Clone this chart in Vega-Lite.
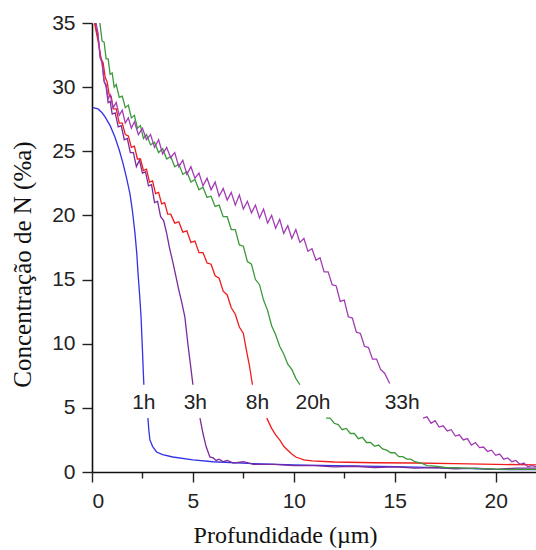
{
  "$schema": "https://vega.github.io/schema/vega-lite/v6.json",
  "width": 444,
  "height": 449,
  "autosize": "none",
  "padding": {"left": 92, "top": 23, "right": 0, "bottom": 78},
  "background": "white",
  "config": {
    "view": {"stroke": null},
    "axis": {
      "domainColor": "#111", "domainWidth": 1.6, "tickColor": "#222", "tickWidth": 1.4,
      "grid": false, "labelFont": "Liberation Sans", "labelFontSize": 20, "labelColor": "#222",
      "titleFont": "Liberation Serif", "titleFontWeight": "normal", "titleColor": "#111"
    }
  },
  "layer": [
    {
      "data": {"values": [
        {"s":"1h","p":0,"x":0.05,"y":28.4},{"s":"1h","p":0,"x":0.3,"y":28.3},{"s":"1h","p":0,"x":0.5,"y":28.0},{"s":"1h","p":0,"x":0.64,"y":27.7},{"s":"1h","p":0,"x":0.9,"y":27.0},{"s":"1h","p":0,"x":1.14,"y":26.1},{"s":"1h","p":0,"x":1.35,"y":25.1},{"s":"1h","p":0,"x":1.53,"y":24.1},{"s":"1h","p":0,"x":1.7,"y":23.0},{"s":"1h","p":0,"x":1.88,"y":21.7},{"s":"1h","p":0,"x":2.0,"y":20.4},{"s":"1h","p":0,"x":2.13,"y":18.6},{"s":"1h","p":0,"x":2.22,"y":17.0},{"s":"1h","p":0,"x":2.28,"y":15.5},{"s":"1h","p":0,"x":2.36,"y":13.8},{"s":"1h","p":0,"x":2.43,"y":12.1},{"s":"1h","p":0,"x":2.5,"y":9.5},{"s":"1h","p":0,"x":2.55,"y":7.5},{"s":"1h","p":0,"x":2.57,"y":6.8},
        {"s":"1h","p":1,"x":2.77,"y":4.2},{"s":"1h","p":1,"x":2.82,"y":3.2},{"s":"1h","p":1,"x":2.87,"y":2.5},{"s":"1h","p":1,"x":3.0,"y":2.0},{"s":"1h","p":1,"x":3.2,"y":1.56},{"s":"1h","p":1,"x":3.5,"y":1.35},{"s":"1h","p":1,"x":4.0,"y":1.17},{"s":"1h","p":1,"x":5.0,"y":0.95},{"s":"1h","p":1,"x":6.0,"y":0.8},{"s":"1h","p":1,"x":8.0,"y":0.65},{"s":"1h","p":1,"x":10.0,"y":0.55},{"s":"1h","p":1,"x":12.0,"y":0.5},{"s":"1h","p":1,"x":15.0,"y":0.42},{"s":"1h","p":1,"x":18.0,"y":0.3},{"s":"1h","p":1,"x":20.0,"y":0.2},{"s":"1h","p":1,"x":22.0,"y":0.18},

        {"s":"3h","p":0,"x":0.1,"y":36},{"s":"3h","p":0,"x":0.2,"y":34.6},{"s":"3h","p":0,"x":0.3,"y":33.9},{"s":"3h","p":0,"x":0.4,"y":32.5},{"s":"3h","p":0,"x":0.5,"y":31.9},{"s":"3h","p":0,"x":0.6,"y":30.5},{"s":"3h","p":0,"x":0.7,"y":30.0},{"s":"3h","p":0,"x":0.8,"y":28.8},{"s":"3h","p":0,"x":0.9,"y":28.9},{"s":"3h","p":0,"x":1.0,"y":27.9},{"s":"3h","p":0,"x":1.15,"y":28.0},{"s":"3h","p":0,"x":1.3,"y":26.9},{"s":"3h","p":0,"x":1.45,"y":27.0},{"s":"3h","p":0,"x":1.6,"y":25.9},{"s":"3h","p":0,"x":1.75,"y":26.0},{"s":"3h","p":0,"x":1.9,"y":24.9},{"s":"3h","p":0,"x":2.05,"y":24.9},{"s":"3h","p":0,"x":2.2,"y":23.8},{"s":"3h","p":0,"x":2.35,"y":24.3},{"s":"3h","p":0,"x":2.5,"y":23.3},{"s":"3h","p":0,"x":2.65,"y":23.4},{"s":"3h","p":0,"x":2.8,"y":22.3},{"s":"3h","p":0,"x":2.95,"y":22.4},{"s":"3h","p":0,"x":3.1,"y":21.0},{"s":"3h","p":0,"x":3.25,"y":21.1},{"s":"3h","p":0,"x":3.4,"y":19.9},{"s":"3h","p":0,"x":3.55,"y":19.6},{"s":"3h","p":0,"x":3.7,"y":18.6},{"s":"3h","p":0,"x":3.85,"y":17.4},{"s":"3h","p":0,"x":4.0,"y":16.4},{"s":"3h","p":0,"x":4.15,"y":15.3},{"s":"3h","p":0,"x":4.3,"y":14.2},{"s":"3h","p":0,"x":4.45,"y":13.2},{"s":"3h","p":0,"x":4.6,"y":12.1},{"s":"3h","p":0,"x":4.75,"y":10.0},{"s":"3h","p":0,"x":4.9,"y":8.1},{"s":"3h","p":0,"x":5.0,"y":6.8},
        {"s":"3h","p":1,"x":5.35,"y":4.2},{"s":"3h","p":1,"x":5.5,"y":3.0},{"s":"3h","p":1,"x":5.65,"y":2.0},{"s":"3h","p":1,"x":5.84,"y":1.17},{"s":"3h","p":1,"x":6.0,"y":1.1},{"s":"3h","p":1,"x":6.15,"y":0.9},{"s":"3h","p":1,"x":6.3,"y":1.0},{"s":"3h","p":1,"x":6.5,"y":0.8},{"s":"3h","p":1,"x":6.7,"y":0.9},{"s":"3h","p":1,"x":7.0,"y":0.7},{"s":"3h","p":1,"x":7.5,"y":0.8},{"s":"3h","p":1,"x":8.0,"y":0.6},{"s":"3h","p":1,"x":9.0,"y":0.6},{"s":"3h","p":1,"x":10.0,"y":0.5},{"s":"3h","p":1,"x":11.0,"y":0.5},{"s":"3h","p":1,"x":12.0,"y":0.4},{"s":"3h","p":1,"x":13.0,"y":0.45},{"s":"3h","p":1,"x":14.0,"y":0.35},{"s":"3h","p":1,"x":15.0,"y":0.4},{"s":"3h","p":1,"x":16.0,"y":0.3},{"s":"3h","p":1,"x":17.0,"y":0.35},{"s":"3h","p":1,"x":18.0,"y":0.25},{"s":"3h","p":1,"x":19.0,"y":0.3},{"s":"3h","p":1,"x":20.0,"y":0.2},{"s":"3h","p":1,"x":21.0,"y":0.3},{"s":"3h","p":1,"x":22.0,"y":0.3},

        {"s":"8h","p":0,"x":0.05,"y":36},{"s":"8h","p":0,"x":0.15,"y":34.8},{"s":"8h","p":0,"x":0.25,"y":34.0},{"s":"8h","p":0,"x":0.35,"y":33.2},{"s":"8h","p":0,"x":0.45,"y":32.2},{"s":"8h","p":0,"x":0.55,"y":31.9},{"s":"8h","p":0,"x":0.65,"y":30.8},{"s":"8h","p":0,"x":0.75,"y":30.4},{"s":"8h","p":0,"x":0.85,"y":29.4},{"s":"8h","p":0,"x":0.95,"y":29.3},{"s":"8h","p":0,"x":1.05,"y":28.3},{"s":"8h","p":0,"x":1.2,"y":28.3},{"s":"8h","p":0,"x":1.35,"y":27.2},{"s":"8h","p":0,"x":1.5,"y":27.2},{"s":"8h","p":0,"x":1.65,"y":26.3},{"s":"8h","p":0,"x":1.8,"y":26.2},{"s":"8h","p":0,"x":1.95,"y":25.3},{"s":"8h","p":0,"x":2.1,"y":25.4},{"s":"8h","p":0,"x":2.25,"y":24.4},{"s":"8h","p":0,"x":2.4,"y":24.4},{"s":"8h","p":0,"x":2.55,"y":23.5},{"s":"8h","p":0,"x":2.7,"y":23.6},{"s":"8h","p":0,"x":2.85,"y":22.6},{"s":"8h","p":0,"x":3.0,"y":22.7},{"s":"8h","p":0,"x":3.15,"y":21.7},{"s":"8h","p":0,"x":3.3,"y":21.8},{"s":"8h","p":0,"x":3.45,"y":20.9},{"s":"8h","p":0,"x":3.6,"y":21.0},{"s":"8h","p":0,"x":3.75,"y":20.1},{"s":"8h","p":0,"x":3.9,"y":20.1},{"s":"8h","p":0,"x":4.1,"y":19.4},{"s":"8h","p":0,"x":4.3,"y":19.5},{"s":"8h","p":0,"x":4.5,"y":18.7},{"s":"8h","p":0,"x":4.7,"y":18.8},{"s":"8h","p":0,"x":4.9,"y":17.9},{"s":"8h","p":0,"x":5.1,"y":18.0},{"s":"8h","p":0,"x":5.3,"y":17.1},{"s":"8h","p":0,"x":5.5,"y":17.1},{"s":"8h","p":0,"x":5.7,"y":16.3},{"s":"8h","p":0,"x":5.9,"y":16.2},{"s":"8h","p":0,"x":6.1,"y":15.3},{"s":"8h","p":0,"x":6.3,"y":15.1},{"s":"8h","p":0,"x":6.5,"y":14.1},{"s":"8h","p":0,"x":6.7,"y":13.8},{"s":"8h","p":0,"x":6.9,"y":12.8},{"s":"8h","p":0,"x":7.1,"y":12.3},{"s":"8h","p":0,"x":7.3,"y":11.3},{"s":"8h","p":0,"x":7.5,"y":10.8},{"s":"8h","p":0,"x":7.65,"y":9.5},{"s":"8h","p":0,"x":7.8,"y":8.3},{"s":"8h","p":0,"x":7.95,"y":6.8},
        {"s":"8h","p":1,"x":8.66,"y":4.2},{"s":"8h","p":1,"x":8.9,"y":3.4},{"s":"8h","p":1,"x":9.1,"y":2.9},{"s":"8h","p":1,"x":9.3,"y":2.5},{"s":"8h","p":1,"x":9.5,"y":2.0},{"s":"8h","p":1,"x":9.7,"y":1.7},{"s":"8h","p":1,"x":9.9,"y":1.4},{"s":"8h","p":1,"x":10.1,"y":1.17},{"s":"8h","p":1,"x":10.5,"y":0.95},{"s":"8h","p":1,"x":10.9,"y":0.86},{"s":"8h","p":1,"x":12.0,"y":0.78},{"s":"8h","p":1,"x":14.0,"y":0.72},{"s":"8h","p":1,"x":16.0,"y":0.7},{"s":"8h","p":1,"x":18.0,"y":0.66},{"s":"8h","p":1,"x":20.0,"y":0.6},{"s":"8h","p":1,"x":22.0,"y":0.55},

        {"s":"20h","p":0,"x":0.3,"y":36},{"s":"20h","p":0,"x":0.4,"y":34.9},{"s":"20h","p":0,"x":0.5,"y":33.6},{"s":"20h","p":0,"x":0.6,"y":33.5},{"s":"20h","p":0,"x":0.7,"y":32.2},{"s":"20h","p":0,"x":0.8,"y":32.2},{"s":"20h","p":0,"x":0.9,"y":31.0},{"s":"20h","p":0,"x":1.0,"y":31.1},{"s":"20h","p":0,"x":1.1,"y":30.0},{"s":"20h","p":0,"x":1.2,"y":30.2},{"s":"20h","p":0,"x":1.35,"y":29.2},{"s":"20h","p":0,"x":1.5,"y":29.3},{"s":"20h","p":0,"x":1.65,"y":28.4},{"s":"20h","p":0,"x":1.8,"y":28.6},{"s":"20h","p":0,"x":1.95,"y":27.6},{"s":"20h","p":0,"x":2.1,"y":27.8},{"s":"20h","p":0,"x":2.25,"y":26.8},{"s":"20h","p":0,"x":2.4,"y":27.0},{"s":"20h","p":0,"x":2.55,"y":26.0},{"s":"20h","p":0,"x":2.7,"y":26.3},{"s":"20h","p":0,"x":2.9,"y":25.5},{"s":"20h","p":0,"x":3.1,"y":25.7},{"s":"20h","p":0,"x":3.3,"y":24.9},{"s":"20h","p":0,"x":3.5,"y":25.2},{"s":"20h","p":0,"x":3.7,"y":24.4},{"s":"20h","p":0,"x":3.9,"y":24.6},{"s":"20h","p":0,"x":4.1,"y":23.8},{"s":"20h","p":0,"x":4.3,"y":24.0},{"s":"20h","p":0,"x":4.5,"y":23.2},{"s":"20h","p":0,"x":4.7,"y":23.4},{"s":"20h","p":0,"x":4.9,"y":22.6},{"s":"20h","p":0,"x":5.1,"y":22.8},{"s":"20h","p":0,"x":5.3,"y":22.0},{"s":"20h","p":0,"x":5.5,"y":22.2},{"s":"20h","p":0,"x":5.7,"y":21.4},{"s":"20h","p":0,"x":5.9,"y":21.5},{"s":"20h","p":0,"x":6.1,"y":20.7},{"s":"20h","p":0,"x":6.3,"y":20.8},{"s":"20h","p":0,"x":6.5,"y":19.9},{"s":"20h","p":0,"x":6.7,"y":19.9},{"s":"20h","p":0,"x":6.9,"y":18.9},{"s":"20h","p":0,"x":7.1,"y":18.9},{"s":"20h","p":0,"x":7.3,"y":17.7},{"s":"20h","p":0,"x":7.5,"y":17.6},{"s":"20h","p":0,"x":7.7,"y":16.4},{"s":"20h","p":0,"x":7.9,"y":16.2},{"s":"20h","p":0,"x":8.1,"y":15.0},{"s":"20h","p":0,"x":8.3,"y":14.6},{"s":"20h","p":0,"x":8.5,"y":13.4},{"s":"20h","p":0,"x":8.7,"y":12.6},{"s":"20h","p":0,"x":8.9,"y":11.4},{"s":"20h","p":0,"x":9.1,"y":10.7},{"s":"20h","p":0,"x":9.3,"y":9.8},{"s":"20h","p":0,"x":9.5,"y":9.2},{"s":"20h","p":0,"x":9.7,"y":8.4},{"s":"20h","p":0,"x":9.9,"y":8.0},{"s":"20h","p":0,"x":10.1,"y":7.3},{"s":"20h","p":0,"x":10.3,"y":6.8},
        {"s":"20h","p":1,"x":11.6,"y":4.2},{"s":"20h","p":1,"x":11.8,"y":4.2},{"s":"20h","p":1,"x":12.0,"y":3.8},{"s":"20h","p":1,"x":12.2,"y":3.7},{"s":"20h","p":1,"x":12.4,"y":3.3},{"s":"20h","p":1,"x":12.6,"y":3.4},{"s":"20h","p":1,"x":12.8,"y":3.0},{"s":"20h","p":1,"x":13.0,"y":3.0},{"s":"20h","p":1,"x":13.2,"y":2.6},{"s":"20h","p":1,"x":13.4,"y":2.7},{"s":"20h","p":1,"x":13.6,"y":2.3},{"s":"20h","p":1,"x":13.8,"y":2.3},{"s":"20h","p":1,"x":14.0,"y":2.0},{"s":"20h","p":1,"x":14.2,"y":2.1},{"s":"20h","p":1,"x":14.4,"y":1.8},{"s":"20h","p":1,"x":14.6,"y":1.7},{"s":"20h","p":1,"x":14.8,"y":1.5},{"s":"20h","p":1,"x":15.0,"y":1.5},{"s":"20h","p":1,"x":15.2,"y":1.2},{"s":"20h","p":1,"x":15.4,"y":1.2},{"s":"20h","p":1,"x":15.6,"y":1.0},{"s":"20h","p":1,"x":15.8,"y":1.0},{"s":"20h","p":1,"x":16.0,"y":0.8},{"s":"20h","p":1,"x":16.3,"y":0.7},{"s":"20h","p":1,"x":16.6,"y":0.5},{"s":"20h","p":1,"x":17.0,"y":0.45},{"s":"20h","p":1,"x":17.5,"y":0.35},{"s":"20h","p":1,"x":18.5,"y":0.3},{"s":"20h","p":1,"x":19.5,"y":0.25},{"s":"20h","p":1,"x":20.5,"y":0.2},{"s":"20h","p":1,"x":22.0,"y":0.2},

        {"s":"33h","p":0,"x":0.1,"y":36},{"s":"33h","p":0,"x":0.2,"y":35.0},{"s":"33h","p":0,"x":0.3,"y":34.2},{"s":"33h","p":0,"x":0.4,"y":32.3},{"s":"33h","p":0,"x":0.5,"y":31.9},{"s":"33h","p":0,"x":0.6,"y":30.4},{"s":"33h","p":0,"x":0.7,"y":30.2},{"s":"33h","p":0,"x":0.8,"y":29.1},{"s":"33h","p":0,"x":0.9,"y":29.4},{"s":"33h","p":0,"x":1.05,"y":28.4},{"s":"33h","p":0,"x":1.2,"y":28.8},{"s":"33h","p":0,"x":1.35,"y":27.8},{"s":"33h","p":0,"x":1.5,"y":28.2},{"s":"33h","p":0,"x":1.65,"y":27.2},{"s":"33h","p":0,"x":1.8,"y":27.6},{"s":"33h","p":0,"x":1.95,"y":26.8},{"s":"33h","p":0,"x":2.1,"y":27.3},{"s":"33h","p":0,"x":2.3,"y":26.3},{"s":"33h","p":0,"x":2.5,"y":26.8},{"s":"33h","p":0,"x":2.7,"y":25.9},{"s":"33h","p":0,"x":2.9,"y":26.3},{"s":"33h","p":0,"x":3.1,"y":25.3},{"s":"33h","p":0,"x":3.3,"y":25.9},{"s":"33h","p":0,"x":3.5,"y":24.8},{"s":"33h","p":0,"x":3.7,"y":25.3},{"s":"33h","p":0,"x":3.9,"y":24.5},{"s":"33h","p":0,"x":4.1,"y":24.9},{"s":"33h","p":0,"x":4.3,"y":23.8},{"s":"33h","p":0,"x":4.5,"y":24.3},{"s":"33h","p":0,"x":4.7,"y":23.2},{"s":"33h","p":0,"x":4.9,"y":23.8},{"s":"33h","p":0,"x":5.1,"y":22.9},{"s":"33h","p":0,"x":5.3,"y":23.3},{"s":"33h","p":0,"x":5.5,"y":22.3},{"s":"33h","p":0,"x":5.7,"y":22.9},{"s":"33h","p":0,"x":5.9,"y":22.0},{"s":"33h","p":0,"x":6.1,"y":22.6},{"s":"33h","p":0,"x":6.3,"y":21.5},{"s":"33h","p":0,"x":6.5,"y":22.1},{"s":"33h","p":0,"x":6.7,"y":21.2},{"s":"33h","p":0,"x":6.9,"y":21.8},{"s":"33h","p":0,"x":7.1,"y":20.8},{"s":"33h","p":0,"x":7.3,"y":21.6},{"s":"33h","p":0,"x":7.5,"y":20.5},{"s":"33h","p":0,"x":7.7,"y":21.1},{"s":"33h","p":0,"x":7.9,"y":20.2},{"s":"33h","p":0,"x":8.1,"y":20.8},{"s":"33h","p":0,"x":8.3,"y":19.8},{"s":"33h","p":0,"x":8.5,"y":20.5},{"s":"33h","p":0,"x":8.7,"y":19.4},{"s":"33h","p":0,"x":8.9,"y":20.0},{"s":"33h","p":0,"x":9.1,"y":19.0},{"s":"33h","p":0,"x":9.3,"y":19.7},{"s":"33h","p":0,"x":9.5,"y":18.6},{"s":"33h","p":0,"x":9.7,"y":19.2},{"s":"33h","p":0,"x":9.9,"y":18.2},{"s":"33h","p":0,"x":10.1,"y":18.9},{"s":"33h","p":0,"x":10.3,"y":17.9},{"s":"33h","p":0,"x":10.5,"y":18.2},{"s":"33h","p":0,"x":10.7,"y":17.2},{"s":"33h","p":0,"x":10.9,"y":17.4},{"s":"33h","p":0,"x":11.1,"y":16.5},{"s":"33h","p":0,"x":11.3,"y":16.7},{"s":"33h","p":0,"x":11.5,"y":15.6},{"s":"33h","p":0,"x":11.7,"y":15.6},{"s":"33h","p":0,"x":11.9,"y":14.6},{"s":"33h","p":0,"x":12.1,"y":14.5},{"s":"33h","p":0,"x":12.3,"y":13.3},{"s":"33h","p":0,"x":12.5,"y":13.4},{"s":"33h","p":0,"x":12.7,"y":12.1},{"s":"33h","p":0,"x":12.9,"y":12.0},{"s":"33h","p":0,"x":13.1,"y":10.9},{"s":"33h","p":0,"x":13.3,"y":10.8},{"s":"33h","p":0,"x":13.5,"y":9.8},{"s":"33h","p":0,"x":13.7,"y":9.7},{"s":"33h","p":0,"x":13.9,"y":8.8},{"s":"33h","p":0,"x":14.1,"y":8.8},{"s":"33h","p":0,"x":14.3,"y":8.0},{"s":"33h","p":0,"x":14.5,"y":7.7},{"s":"33h","p":0,"x":14.75,"y":6.9},
        {"s":"33h","p":1,"x":16.4,"y":4.2},{"s":"33h","p":1,"x":16.6,"y":4.3},{"s":"33h","p":1,"x":16.8,"y":3.8},{"s":"33h","p":1,"x":17.0,"y":4.0},{"s":"33h","p":1,"x":17.2,"y":3.5},{"s":"33h","p":1,"x":17.4,"y":3.6},{"s":"33h","p":1,"x":17.6,"y":3.2},{"s":"33h","p":1,"x":17.8,"y":3.3},{"s":"33h","p":1,"x":18.0,"y":2.8},{"s":"33h","p":1,"x":18.2,"y":2.9},{"s":"33h","p":1,"x":18.4,"y":2.5},{"s":"33h","p":1,"x":18.6,"y":2.6},{"s":"33h","p":1,"x":18.8,"y":2.1},{"s":"33h","p":1,"x":19.0,"y":2.3},{"s":"33h","p":1,"x":19.2,"y":1.9},{"s":"33h","p":1,"x":19.4,"y":1.95},{"s":"33h","p":1,"x":19.6,"y":1.6},{"s":"33h","p":1,"x":19.8,"y":1.7},{"s":"33h","p":1,"x":20.0,"y":1.3},{"s":"33h","p":1,"x":20.2,"y":1.4},{"s":"33h","p":1,"x":20.4,"y":1.0},{"s":"33h","p":1,"x":20.6,"y":1.1},{"s":"33h","p":1,"x":20.8,"y":0.8},{"s":"33h","p":1,"x":21.0,"y":0.9},{"s":"33h","p":1,"x":21.2,"y":0.6},{"s":"33h","p":1,"x":21.4,"y":0.7},{"s":"33h","p":1,"x":21.6,"y":0.4},{"s":"33h","p":1,"x":21.8,"y":0.5},{"s":"33h","p":1,"x":22.0,"y":0.4}
      ]},
      "mark": {"type": "line", "clip": true, "strokeWidth": 1.3},
      "encoding": {
        "x": {"field": "x", "type": "quantitative",
          "scale": {"domain": [0, 22], "nice": false, "zero": false},
          "axis": {
            "values": [0, 2.5, 5, 7.5, 10, 12.5, 15, 17.5, 20],
            "labelExpr": "datum.value % 5 === 0 ? datum.label : ''",
            "tickSize": {"condition": {"test": "datum.value % 5 === 0", "value": 10}, "value": 6},
            "labelPadding": 8, "labelFontSize": 21,
            "title": "Profundidade (µm)", "titleFontSize": 24,
            "titleX": 193, "titleY": 63, "titleBaseline": "middle", "titleAnchor": "middle", "titleAlign": "center"
          }},
        "y": {"field": "y", "type": "quantitative",
          "scale": {"domain": [0, 35], "nice": false},
          "axis": {
            "values": [0, 2.5, 5, 7.5, 10, 12.5, 15, 17.5, 20, 22.5, 25, 27.5, 30, 32.5, 35],
            "labelExpr": "datum.value % 5 === 0 ? datum.label : ''",
            "tickSize": {"condition": {"test": "datum.value % 5 === 0", "value": 10}, "value": 6},
            "labelPadding": 7, "labelFontSize": 21,
            "title": "Concentração de N (%a)", "titleFontSize": 25,
            "titleX": -70, "titleY": 241, "titleBaseline": "middle", "titleAlign": "center", "titleAngle": -90
          }},
        "color": {"field": "s", "type": "nominal", "legend": null,
          "scale": {"domain": ["1h", "3h", "8h", "20h", "33h"],
                    "range": ["#3232e6", "#7a2a9e", "#f01c1c", "#3a9a3a", "#a23cb4"]}},
        "detail": {"field": "p", "type": "nominal"}
      }
    },
    {
      "mark": {"type": "rule", "strokeWidth": 1.8, "color": "#111"},
      "encoding": {"y": {"datum": 35}}
    },
    {
      "data": {"values": [
        {"lab": "1h", "x": 2.57, "y": 5.4},
        {"lab": "3h", "x": 5.12, "y": 5.4},
        {"lab": "8h", "x": 8.2, "y": 5.4},
        {"lab": "20h", "x": 10.95, "y": 5.4},
        {"lab": "33h", "x": 15.37, "y": 5.4}
      ]},
      "mark": {"type": "text", "font": "Liberation Sans", "fontSize": 21, "color": "#222", "align": "center", "baseline": "middle"},
      "encoding": {
        "x": {"field": "x", "type": "quantitative"},
        "y": {"field": "y", "type": "quantitative"},
        "text": {"field": "lab"}
      }
    },
    {
      "mark": {"type": "text", "font": "Liberation Sans", "fontSize": 26, "color": "#111", "align": "center", "baseline": "middle"},
      "encoding": {
        "x": {"datum": 20.4},
        "y": {"datum": 32.4},
        "text": {"value": "(b)"}
      }
    }
  ]
}
